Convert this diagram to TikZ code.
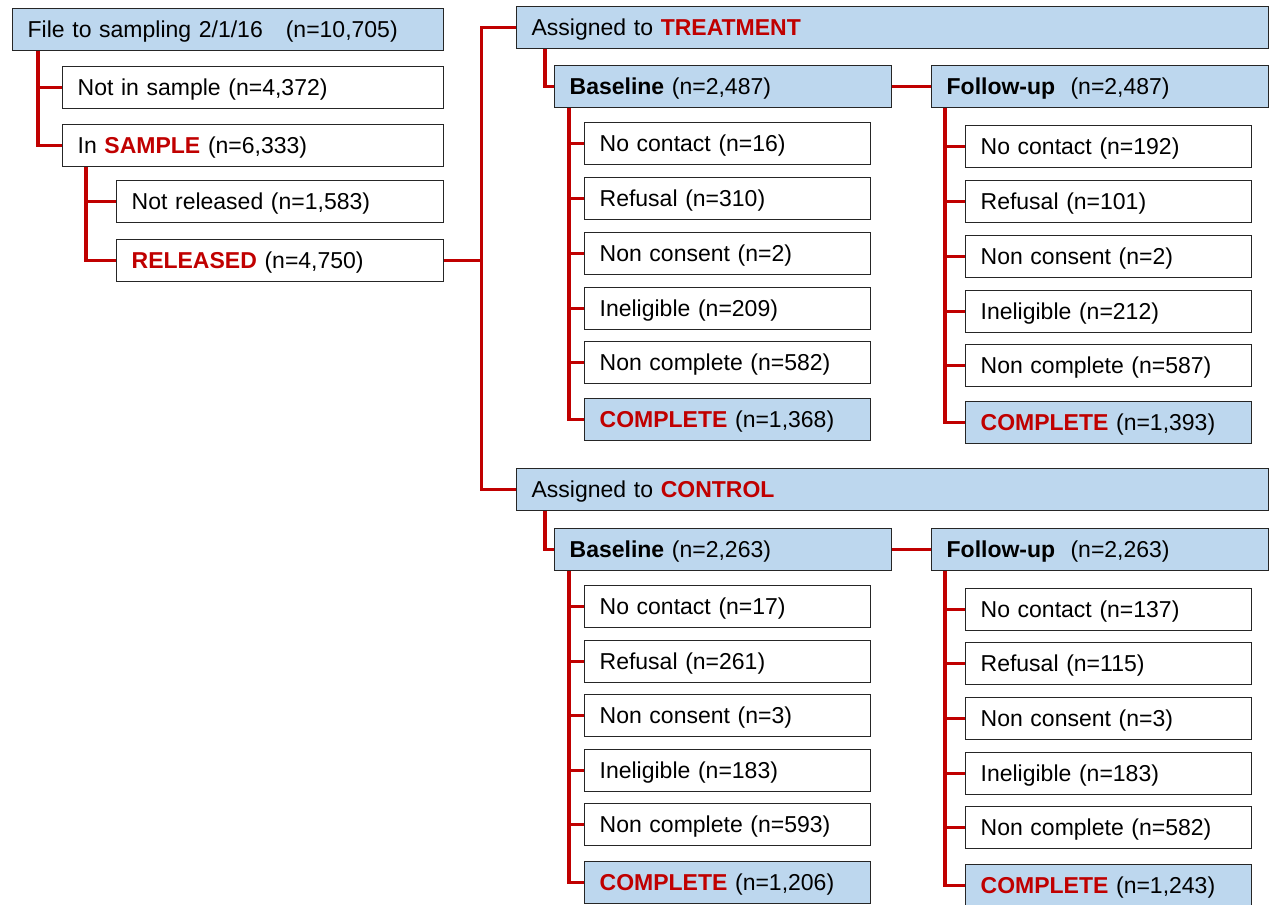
\documentclass[tikz,border=0pt]{standalone}
\usepackage{fontspec}
\setmainfont{Liberation Sans}
\definecolor{boxblue}{HTML}{BDD7EE}
\definecolor{linkred}{HTML}{C00000}
\newcommand{\redword}[1]{\textcolor{linkred}{\textbf{#1}}}
\tikzset{
  box/.style={draw=black!85, line width=1.3pt, inner xsep=15pt, inner ysep=0pt,
    minimum height=42pt, align=left, anchor=north west,
    text height=17pt, text depth=0.5pt,
    font=\fontsize{23}{26}\selectfont},
  bluebox/.style={box, fill=boxblue},
  link/.style={draw=linkred, line width=3.2pt},
}
\begin{document}
\begin{tikzpicture}[x=1pt,y=-1pt]
\useasboundingbox (0,0) rectangle (1270,905);

% sampling frame
\node[bluebox, text width=401pt] (file) at (12,8) {File to sampling 2/1/16 \ \ (n=10,705)};
\node[box, text width=351pt] (notin) at (62,66) {Not in sample (n=4,372)};
\node[box, text width=351pt] (insample) at (62,124) {In \redword{SAMPLE} (n=6,333)};
\node[box, text width=297pt] (notrel) at (116,180) {Not released (n=1,583)};
\node[box, text width=297pt] (rel) at (116,239) {\redword{RELEASED} (n=4,750)};

% treatment arm
\node[bluebox, text width=722pt] (treat) at (516,6) {Assigned to \redword{TREATMENT}};
\node[bluebox, text width=307pt] (tbase) at (554,65) {\textbf{Baseline} (n=2,487)};
\node[bluebox, text width=307pt] (tfol) at (931,65) {\textbf{Follow-up} \ (n=2,487)};

\node[box, text width=256pt] (tb1) at (584,122) {No contact (n=16)};
\node[box, text width=256pt] (tb2) at (584,177) {Refusal (n=310)};
\node[box, text width=256pt] (tb3) at (584,232) {Non consent (n=2)};
\node[box, text width=256pt] (tb4) at (584,287) {Ineligible (n=209)};
\node[box, text width=256pt] (tb5) at (584,341) {Non complete (n=582)};
\node[bluebox, text width=256pt] (tb6) at (584,398) {\redword{COMPLETE} (n=1,368)};

\node[box, text width=256pt] (tf1) at (965,125) {No contact (n=192)};
\node[box, text width=256pt] (tf2) at (965,180) {Refusal (n=101)};
\node[box, text width=256pt] (tf3) at (965,235) {Non consent (n=2)};
\node[box, text width=256pt] (tf4) at (965,290) {Ineligible (n=212)};
\node[box, text width=256pt] (tf5) at (965,344) {Non complete (n=587)};
\node[bluebox, text width=256pt] (tf6) at (965,401) {\redword{COMPLETE} (n=1,393)};

% control arm
\node[bluebox, text width=722pt] (ctrl) at (516,468) {Assigned to \redword{CONTROL}};
\node[bluebox, text width=307pt] (cbase) at (554,528) {\textbf{Baseline} (n=2,263)};
\node[bluebox, text width=307pt] (cfol) at (931,528) {\textbf{Follow-up} \ (n=2,263)};

\node[box, text width=256pt] (cb1) at (584,585) {No contact (n=17)};
\node[box, text width=256pt] (cb2) at (584,640) {Refusal (n=261)};
\node[box, text width=256pt] (cb3) at (584,694) {Non consent (n=3)};
\node[box, text width=256pt] (cb4) at (584,749) {Ineligible (n=183)};
\node[box, text width=256pt] (cb5) at (584,803) {Non complete (n=593)};
\node[bluebox, text width=256pt] (cb6) at (584,861) {\redword{COMPLETE} (n=1,206)};

\node[box, text width=256pt] (cf1) at (965,588) {No contact (n=137)};
\node[box, text width=256pt] (cf2) at (965,642) {Refusal (n=115)};
\node[box, text width=256pt] (cf3) at (965,697) {Non consent (n=3)};
\node[box, text width=256pt] (cf4) at (965,752) {Ineligible (n=183)};
\node[box, text width=256pt] (cf5) at (965,806) {Non complete (n=582)};
\node[bluebox, text width=256pt] (cf6) at (965,864) {\redword{COMPLETE} (n=1,243)};

% connectors
\draw[link] ([xshift=26pt]file.south west) |- (notin.west);
\draw[link] ([xshift=26pt]file.south west) |- (insample.west);
\draw[link] ([xshift=24pt]insample.south west) |- (notrel.west);
\draw[link] ([xshift=24pt]insample.south west) |- (rel.west);

\draw[link] (rel.east) -- ++(37,0) coordinate (split);
\draw[link] (split) |- (treat.west);
\draw[link] (split) |- (ctrl.west);

\draw[link] ([xshift=29pt]treat.south west) |- (tbase.west);
\draw[link] (tbase.east) -- (tfol.west);
\draw[link] ([xshift=15pt]tbase.south west) |- (tb1.west);
\draw[link] ([xshift=15pt]tbase.south west) |- (tb2.west);
\draw[link] ([xshift=15pt]tbase.south west) |- (tb3.west);
\draw[link] ([xshift=15pt]tbase.south west) |- (tb4.west);
\draw[link] ([xshift=15pt]tbase.south west) |- (tb5.west);
\draw[link] ([xshift=15pt]tbase.south west) |- (tb6.west);
\draw[link] ([xshift=14pt]tfol.south west) |- (tf1.west);
\draw[link] ([xshift=14pt]tfol.south west) |- (tf2.west);
\draw[link] ([xshift=14pt]tfol.south west) |- (tf3.west);
\draw[link] ([xshift=14pt]tfol.south west) |- (tf4.west);
\draw[link] ([xshift=14pt]tfol.south west) |- (tf5.west);
\draw[link] ([xshift=14pt]tfol.south west) |- (tf6.west);

\draw[link] ([xshift=29pt]ctrl.south west) |- (cbase.west);
\draw[link] (cbase.east) -- (cfol.west);
\draw[link] ([xshift=15pt]cbase.south west) |- (cb1.west);
\draw[link] ([xshift=15pt]cbase.south west) |- (cb2.west);
\draw[link] ([xshift=15pt]cbase.south west) |- (cb3.west);
\draw[link] ([xshift=15pt]cbase.south west) |- (cb4.west);
\draw[link] ([xshift=15pt]cbase.south west) |- (cb5.west);
\draw[link] ([xshift=15pt]cbase.south west) |- (cb6.west);
\draw[link] ([xshift=14pt]cfol.south west) |- (cf1.west);
\draw[link] ([xshift=14pt]cfol.south west) |- (cf2.west);
\draw[link] ([xshift=14pt]cfol.south west) |- (cf3.west);
\draw[link] ([xshift=14pt]cfol.south west) |- (cf4.west);
\draw[link] ([xshift=14pt]cfol.south west) |- (cf5.west);
\draw[link] ([xshift=14pt]cfol.south west) |- (cf6.west);
\end{tikzpicture}
\end{document}
